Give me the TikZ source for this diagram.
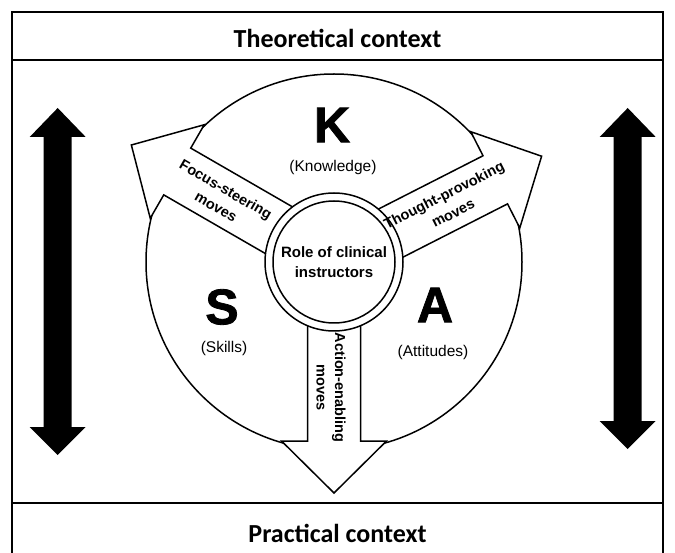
\documentclass[tikz,border=0pt]{standalone}
\usepackage{fontspec}
\setmainfont{Liberation Sans}
\newfontfamily\calib{Carlito}
\newfontfamily\heavyfont{Liberation Sans}[BoldFeatures={FakeBold=1.6}]
\begin{document}
\begin{tikzpicture}[x=1pt,y=1pt,line join=miter]
\tikzset{
  frameline/.style={line width=1.2pt},
  shapeline/.style={line width=1.5pt,draw=black,fill=white},
  bandtext/.style={font=\calib\bfseries\fontsize{26}{30}\selectfont,inner sep=0pt},
  bigletter/.style={font=\heavyfont\bfseries\fontsize{50}{56}\selectfont,inner sep=0pt},
  subtext/.style={font=\fontsize{15.5}{18}\selectfont,inner sep=0pt},
  movelabel/.style={font=\bfseries\fontsize{14.5}{20}\selectfont,align=center,inner sep=0pt},
  actionlabel/.style={font=\bfseries\fontsize{14.5}{18.5}\selectfont,align=center,inner sep=0pt},
  rolelabel/.style={font=\bfseries\fontsize{15}{20}\selectfont,align=center,inner sep=0pt},
  movearrow/.style={shapeline},
  blackarrow/.style={fill=black,draw=none}
}
\useasboundingbox (0,0) rectangle (675,-553);
% frame
\draw[frameline] (12,-556) -- (12,-12) -- (663,-12) -- (663,-556);
\draw[frameline] (12,-60) -- (663,-60);
\draw[frameline] (12,-503) -- (663,-503);
\node[bandtext] (theo) at (337.5,-38) {Theoretical context};
\node[bandtext] (prac) at (337.5,-533) {Practical context};
% big circle
\node[circle,shapeline,minimum size=376pt,inner sep=0pt] (ksa) at (334,-262) {};
% move arrows
\begin{scope}[shift={(334,-262)},rotate=150]
  \draw[movearrow] (40,-27) -- (181,-27) -- (181,-54) -- (234,0) -- (181,54) -- (181,27) -- (40,27) -- cycle;
\end{scope}
\begin{scope}[shift={(334,-262)},rotate=27]
  \draw[movearrow] (40,-27) -- (181,-27) -- (181,-54) -- (233,0) -- (181,54) -- (181,27) -- (40,27) -- cycle;
\end{scope}
\begin{scope}[shift={(334,-262)},rotate=-90]
  \draw[movearrow] (40,-26.5) -- (179,-26.5) -- (179,-52.5) -- (231,0) -- (179,52.5) -- (179,26.5) -- (40,26.5) -- cycle;
\end{scope}
% central circles
\node[circle,shapeline,minimum size=138pt,inner sep=0pt] (ring) at (334,-262) {};
\node[circle,shapeline,minimum size=122pt,inner sep=0pt,rolelabel] (role) at (334,-262) {Role of clinical\\instructors};
% letters
\node[bigletter] (K) at (332,-125) {K};
\node[subtext] (Kt) at (333,-167) {(Knowledge)};
\node[bigletter] (S) at (222,-307) {S};
\node[subtext] (St) at (224,-348) {(Skills)};
\node[bigletter] (A) at (435,-305) {A};
\node[subtext] (At) at (433,-352) {(Attitudes)};
% move labels
\node[movelabel,rotate=-30] (focus) at (221,-198) {Focus-steering\\moves};
\node[movelabel,rotate=27] (thought) at (448.5,-204) {Thought-provoking\\moves};
\node[actionlabel,rotate=-90] (action) at (331,-387.5) {Action-enabling\\moves};
% black double arrows
\fill[blackarrow] (57.7,-108) -- (85.7,-137) -- (71.7,-137) -- (71.7,-427) -- (85.7,-427) -- (57.7,-455) -- (29.7,-427) -- (43.7,-427) -- (43.7,-137) -- (29.7,-137) -- cycle;
\fill[blackarrow] (627.7,-108) -- (655.7,-137) -- (641.7,-137) -- (641.7,-421) -- (655.7,-421) -- (627.7,-449) -- (599.7,-421) -- (613.7,-421) -- (613.7,-137) -- (599.7,-137) -- cycle;
\end{tikzpicture}
\end{document}
